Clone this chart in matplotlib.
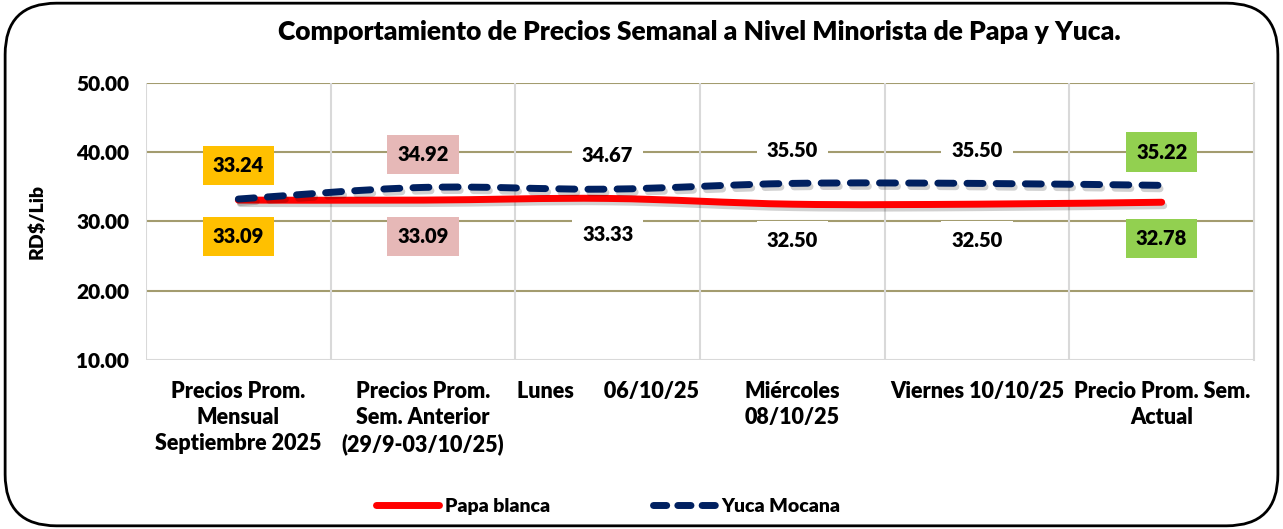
import matplotlib.pyplot as plt
import matplotlib.patheffects as pe
from matplotlib.patches import FancyBboxPatch, PathPatch
from matplotlib.path import Path
from matplotlib.lines import Line2D

plt.rcParams['font.family'] = ['Lato', 'DejaVu Sans']
plt.rcParams['font.weight'] = 800

categorias = ["Precios Prom.\nMensual\nSeptiembre 2025",
              "Precios Prom.\nSem. Anterior\n(29/9-03/10/25)",
              "Lunes      06/10/25",
              "Miércoles\n08/10/25",
              "Viernes 10/10/25",
              "Precio Prom. Sem.\nActual"]
papa = [33.09, 33.09, 33.33, 32.50, 32.50, 32.78]
yuca = [33.24, 34.92, 34.67, 35.50, 35.50, 35.22]
colores_caja = ["#FFC000", "#E6B8B7", None, None, None, "#92D050"]


def smooth_path(xs, ys, t=0.17):
    # Excel-like smoothed line as cubic bezier segments
    verts = [(xs[0], ys[0])]
    codes = [Path.MOVETO]
    n = len(xs)
    for i in range(n - 1):
        x0, y0 = xs[max(i - 1, 0)], ys[max(i - 1, 0)]
        x1, y1 = xs[i], ys[i]
        x2, y2 = xs[i + 1], ys[i + 1]
        x3, y3 = xs[min(i + 2, n - 1)], ys[min(i + 2, n - 1)]
        c1 = (x1 + (x2 - x0) * t, y1 + (y2 - y0) * t)
        c2 = (x2 - (x3 - x1) * t, y2 - (y3 - y1) * t)
        verts += [c1, c2, (x2, y2)]
        codes += [Path.CURVE4] * 3
    return Path(verts, codes)


fig = plt.figure(figsize=(12.83, 5.29), dpi=100)
border = FancyBboxPatch((0.004, 0.006), 0.992, 0.988, boxstyle="round,pad=0,rounding_size=0.04",
                        transform=fig.transFigure, fill=False, edgecolor="black", linewidth=2,
                        mutation_aspect=1283 / 529)
fig.patches.append(border)

ax = fig.add_axes([0.1138, 0.3195, 0.8636, 0.5236])
x = list(range(len(categorias)))
ax.set_xlim(-0.5, len(categorias) - 0.5)
ax.set_ylim(10, 50)
ax.set_yticks([10, 20, 30, 40, 50])
ax.set_yticklabels(["%.2f" % v for v in [10, 20, 30, 40, 50]], fontsize=15)
ax.set_xticks(x)
ax.set_xticklabels(categorias, fontsize=15.5, linespacing=1.3)
ax.tick_params(axis='y', length=0, pad=12)
ax.tick_params(axis='x', length=0, pad=15)
for s in ax.spines.values():
    s.set_visible(False)
ax.spines['right'].set_visible(True)
ax.spines['right'].set_color('#D9D9D9')
ax.spines['right'].set_linewidth(1.5)

for v in [20, 30, 40, 50]:
    ax.axhline(v, color="#A39C6F", lw=1.5, zorder=1)
ax.axhline(10, color="#D9D9D9", lw=1.5, zorder=1)
for b in [-0.5, 0.5, 1.5, 2.5, 3.5, 4.5]:
    ax.axvline(b, color="#D9D9D9", lw=1.5, zorder=1)

shadow = [pe.SimpleLineShadow(offset=(1.5, -2.5), alpha=0.18, shadow_color='black'), pe.Normal()]
pp = PathPatch(smooth_path(x, papa), fill=False, edgecolor="#FF0000", lw=5,
               capstyle='round', zorder=3, path_effects=shadow)
ax.add_patch(pp)
yp = PathPatch(smooth_path(x, yuca), fill=False, edgecolor="#002060", lw=5,
               linestyle=(0, (2.3, 1.9)), capstyle='round', zorder=4, path_effects=shadow)
ax.add_patch(yp)

for i in x:
    bb = dict(boxstyle="square,pad=0.5", fc=colores_caja[i] or "white", ec="none")
    ax.annotate("%.2f" % yuca[i], (i, yuca[i]), xytext=(0, 24), textcoords="offset points",
                ha="center", va="center", fontsize=14.5, bbox=bb, zorder=5)
    ax.annotate("%.2f" % papa[i], (i, papa[i]), xytext=(0, -26), textcoords="offset points",
                ha="center", va="center", fontsize=14.5, bbox=bb, zorder=5)

ax.set_ylabel("RD$/Lib", fontsize=14, fontweight=800, labelpad=22)
fig.text(0.545, 0.94, "Comportamiento de Precios Semanal a Nivel Minorista de Papa y Yuca.",
         ha="center", va="center", fontsize=19)

handles = [Line2D([], [], color="#FF0000", lw=5, solid_capstyle='round'),
           Line2D([], [], color="#002060", lw=5, linestyle=(0, (1.9, 1.6)), dash_capstyle='round')]
fig.legend(handles, ["Papa blanca", "Yuca Mocana"], loc="center", bbox_to_anchor=(0.474, 0.043),
           ncol=2, frameon=False, fontsize=14, handlelength=3.2, handletextpad=0.3,
           columnspacing=5.3)

fig.savefig("out.png", dpi=100)
